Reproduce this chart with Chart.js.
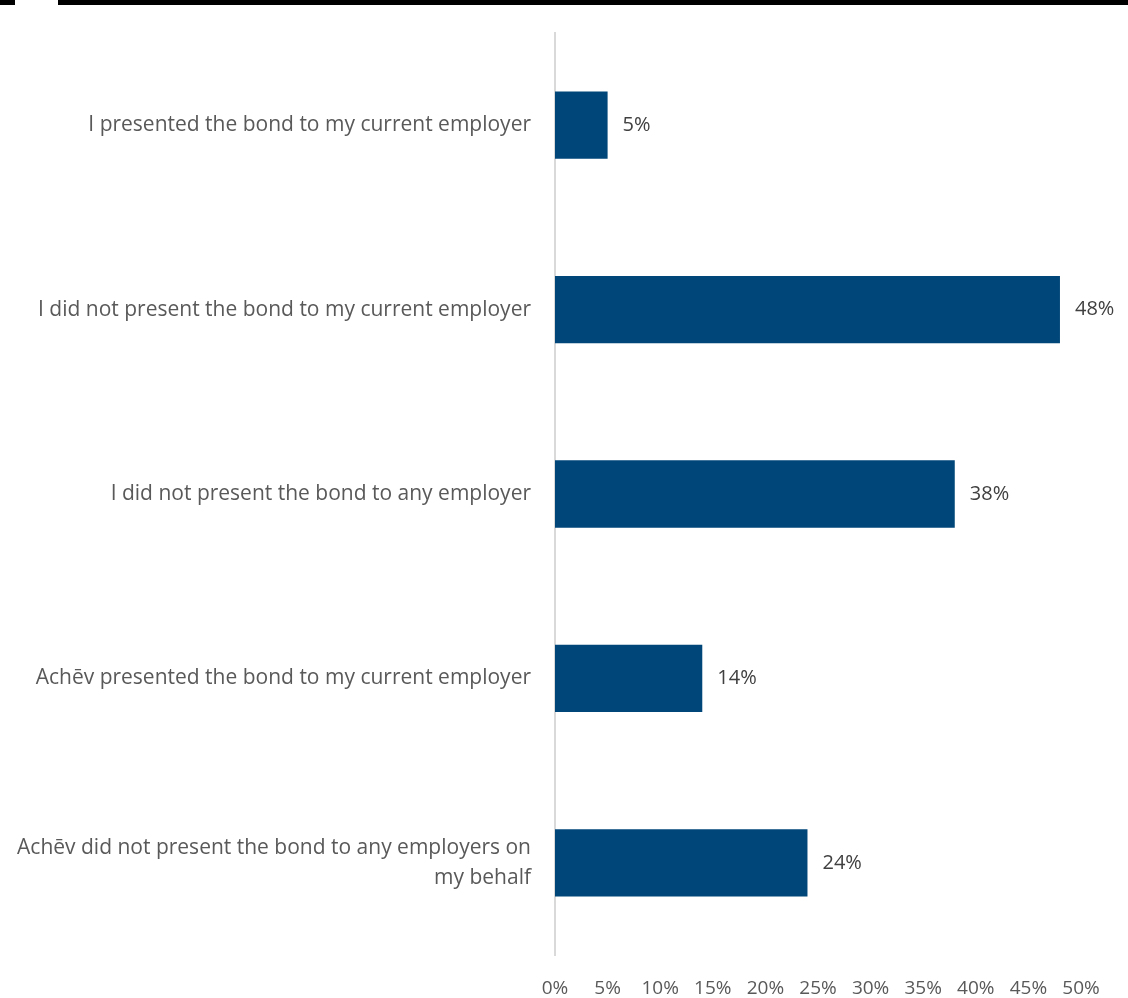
<!DOCTYPE html>
<html>
<head>
<meta charset="utf-8">
<script src="https://cdn.jsdelivr.net/npm/chart.js@4.4.1/dist/chart.umd.min.js"></script>
<style>
  body { margin: 0; background: #fff; }
  #wrap { position: relative; width: 1128px; height: 998px; }
  .rule { position: absolute; top: 0; height: 5px; background: #000; }
</style>
</head>
<body>
<div id="wrap">
  <div class="rule" style="left:0;width:15px"></div>
  <div class="rule" style="left:58px;width:1070px"></div>
  <canvas id="bondChart" width="1128" height="998"></canvas>
</div>
<script>
var categories = [
  "I presented the bond to my current employer",
  "I did not present the bond to my current employer",
  "I did not present the bond to any employer",
  "Achēv presented the bond to my current employer",
  ["Achēv did not present the bond to any employers on", "my behalf"]
];
var percentValues = [5, 48, 38, 14, 24];
var tickMax = 50;
var tickStep = 5;

var fontFamily = "'Open Sans', sans-serif";

// write the percentage just past the end of each bar
var barValueLabels = {
  id: "barValueLabels",
  afterDatasetsDraw: function (chart) {
    var ctx = chart.ctx;
    var meta = chart.getDatasetMeta(0);
    ctx.save();
    ctx.font = "20px " + fontFamily;
    ctx.fillStyle = "#404040";
    ctx.textAlign = "left";
    ctx.textBaseline = "middle";
    meta.data.forEach(function (bar, i) {
      ctx.fillText(percentValues[i] + "%", bar.x + 15, bar.y);
    });
    ctx.restore();
  }
};

var ctx = document.getElementById("bondChart").getContext("2d");
var bondChart = new Chart(ctx, {
  type: "bar",
  data: {
    labels: categories,
    datasets: [
      {
        data: percentValues,
        backgroundColor: "#004678",
        barPercentage: 0.365,
        categoryPercentage: 1.0
      }
    ]
  },
  options: {
    indexAxis: "y",
    responsive: false,
    animation: false,
    layout: { padding: { top: 33, right: 47, left: 0, bottom: 0 } },
    plugins: {
      legend: { display: false },
      tooltip: { enabled: false }
    },
    scales: {
      x: {
        min: 0,
        max: tickMax,
        grid: { display: false, drawTicks: false },
        border: { display: false },
        ticks: {
          stepSize: tickStep,
          padding: 22,
          color: "#595959",
          font: { family: fontFamily, size: 19 },
          callback: function (v) { return v + "%"; }
        },
        afterFit: function (scale) { scale.height = 43; }
      },
      y: {
        grid: { display: false, drawTicks: false },
        border: { display: true, color: "#d9d9d9", width: 2 },
        ticks: {
          padding: 24,
          color: "#595959",
          font: { family: fontFamily, size: 21, lineHeight: 1.42 }
        },
        afterFit: function (scale) {
          scale.width = 555;
          scale.paddingTop = 0;
          scale.paddingBottom = 0;
        }
      }
    }
  },
  plugins: [barValueLabels]
});
</script>
</body>
</html>
